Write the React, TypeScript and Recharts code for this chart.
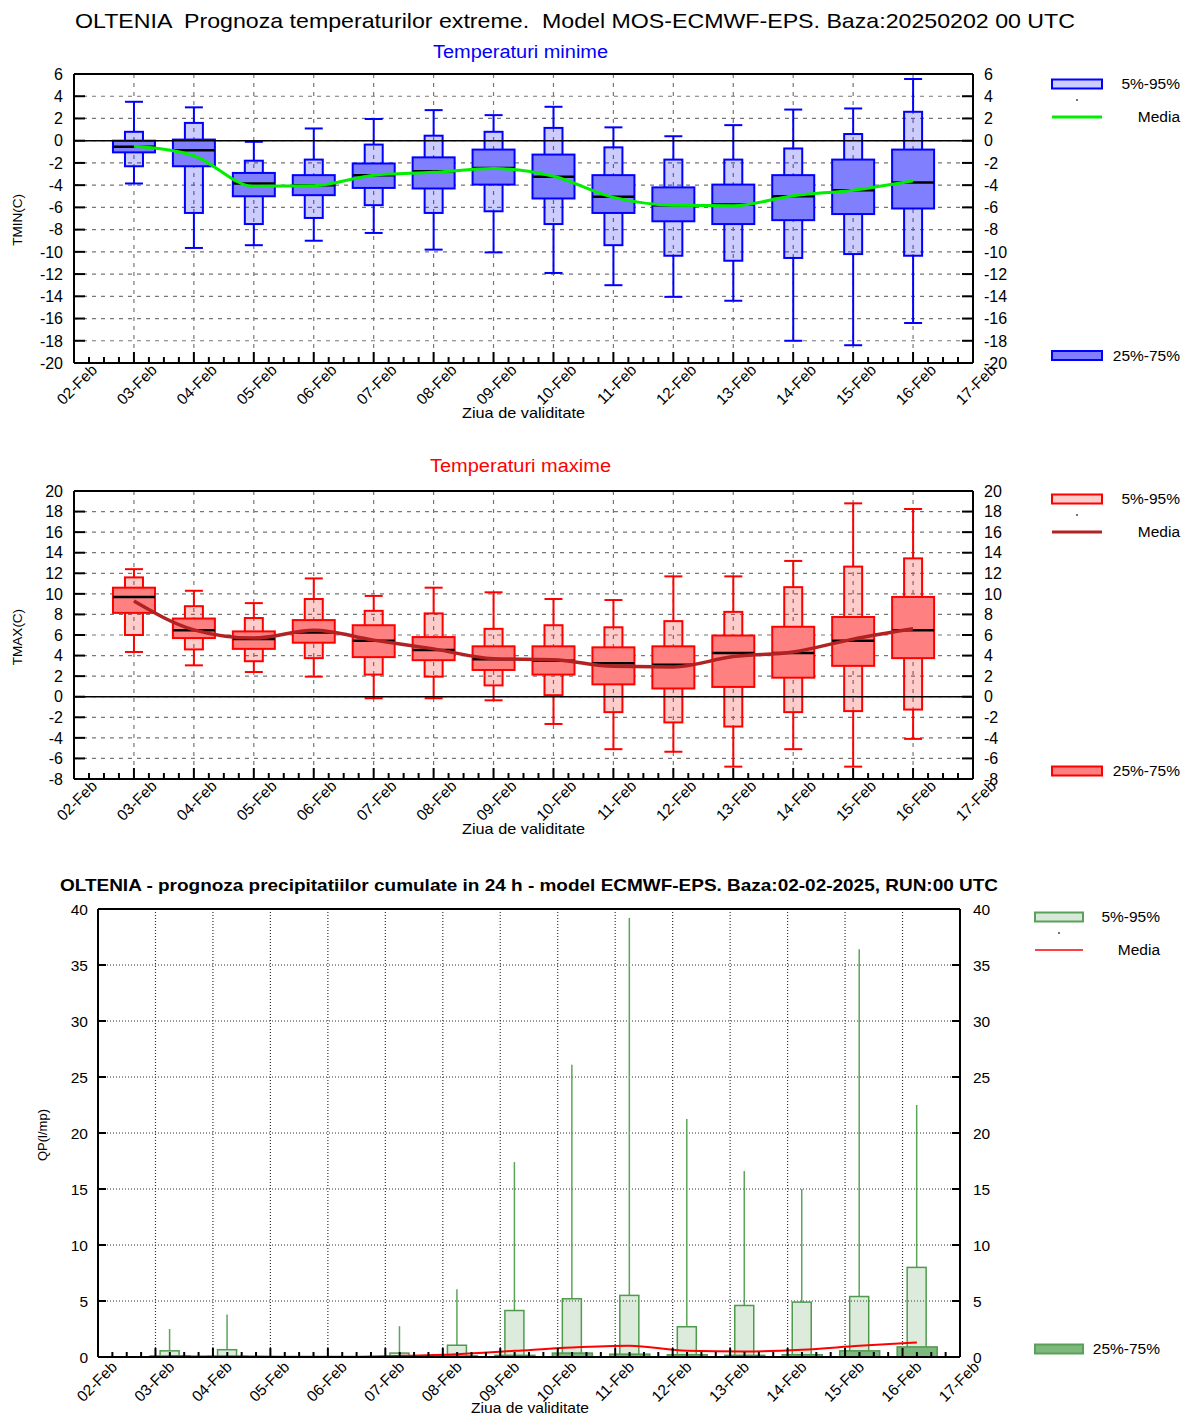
import React from 'react';
import { ComposedChart, Bar, Line, XAxis, YAxis, CartesianGrid, ReferenceLine } from 'recharts';

const FONT = '"Liberation Sans", Arial, Helvetica, sans-serif';

// ---------- categories / tick labels ----------
const DAY_LABELS = ['02-Feb', '03-Feb', '04-Feb', '05-Feb', '06-Feb', '07-Feb', '08-Feb', '09-Feb', '10-Feb', '11-Feb', '12-Feb', '13-Feb', '14-Feb', '15-Feb', '16-Feb', '17-Feb'];
const FORECAST_DAYS = ['03-Feb', '04-Feb', '05-Feb', '06-Feb', '07-Feb', '08-Feb', '09-Feb', '10-Feb', '11-Feb', '12-Feb', '13-Feb', '14-Feb', '15-Feb', '16-Feb'];
const DAY_TICKS = DAY_LABELS.map((_, i) => i);
const QUARTER_TICKS = Array.from({ length: 61 }, (_, i) => i / 4);
const TMIN_TICKS = [-20, -18, -16, -14, -12, -10, -8, -6, -4, -2, 0, 2, 4, 6];
const TMAX_TICKS = [-8, -6, -4, -2, 0, 2, 4, 6, 8, 10, 12, 14, 16, 18, 20];
const QP_TICKS = [0, 5, 10, 15, 20, 25, 30, 35, 40];

// ---------- TMIN ----------
const tminMax = [3.5, 3.0, -0.1, 1.1, 1.95, 2.75, 2.3, 3.05, 1.2, 0.4, 1.4, 2.8, 2.9, 5.55];
const tminP95 = [0.8, 1.6, -1.8, -1.7, -0.35, 0.45, 0.8, 1.15, -0.6, -1.7, -1.7, -0.7, 0.6, 2.6];
const tminP75 = [0.0, 0.1, -2.9, -3.1, -2.05, -1.5, -0.8, -1.25, -3.1, -4.2, -3.95, -3.1, -1.7, -0.8];
const tminMed = [-0.55, -0.85, -3.85, -4.0, -3.1, -2.75, -2.45, -3.25, -5.05, -5.8, -5.75, -5.0, -4.45, -3.75];
const tminP25 = [-1.05, -2.3, -5.0, -4.9, -4.25, -4.3, -3.95, -5.2, -6.5, -7.25, -7.5, -7.15, -6.6, -6.1];
const tminP5 = [-2.3, -6.5, -7.5, -6.95, -5.8, -6.5, -6.35, -7.5, -9.4, -10.35, -10.8, -10.55, -10.2, -10.35];
const tminMin = [-3.85, -9.65, -9.4, -9.0, -8.3, -9.8, -10.05, -11.9, -13.0, -14.05, -14.4, -18.0, -18.4, -16.4];
const tminMean = [-0.5, -1.35, -4.1, -4.05, -3.1, -2.85, -2.5, -3.2, -5.1, -5.8, -5.85, -4.95, -4.45, -3.6];

// ---------- TMAX ----------
const tmaxMax = [12.4, 10.3, 9.1, 11.5, 9.8, 10.6, 10.15, 9.5, 9.4, 11.7, 11.7, 13.2, 18.8, 18.25];
const tmaxP95 = [11.6, 8.8, 7.65, 9.5, 8.35, 8.1, 6.6, 6.95, 6.75, 7.35, 8.25, 10.65, 12.65, 13.45];
const tmaxP75 = [10.6, 7.6, 6.35, 7.45, 6.95, 5.8, 4.9, 4.9, 4.8, 4.9, 5.95, 6.8, 7.75, 9.7];
const tmaxMed = [9.7, 6.45, 5.6, 6.25, 5.45, 4.55, 3.65, 3.5, 3.25, 3.1, 4.25, 4.25, 5.45, 6.45];
const tmaxP25 = [8.15, 5.7, 4.65, 5.25, 3.85, 3.55, 2.6, 2.15, 1.2, 0.8, 0.95, 1.85, 3.0, 3.75];
const tmaxP5 = [6.0, 4.6, 3.45, 3.75, 2.15, 1.95, 1.1, 0.15, -1.5, -2.5, -2.9, -1.5, -1.4, -1.25];
const tmaxMin = [4.35, 3.05, 2.4, 1.95, -0.15, -0.15, -0.35, -2.65, -5.1, -5.35, -6.8, -5.1, -6.8, -4.1];
const tmaxMean = [9.3, 6.5, 5.7, 6.45, 5.5, 4.65, 3.7, 3.6, 2.95, 2.9, 3.9, 4.35, 5.6, 6.6];

// ---------- Precipitation ----------
const qpMax = [2.5, 3.8, 0, 0, 2.75, 6.05, 17.4, 26.1, 39.2, 21.25, 16.6, 15.0, 36.4, 22.5];
const qpP95 = [0.55, 0.65, 0, 0, 0.35, 1.05, 4.15, 5.2, 5.5, 2.7, 4.6, 4.9, 5.4, 8.0];
const qpP75 = [0.1, 0.05, 0, 0, 0.05, 0.1, 0.15, 0.35, 0.25, 0.2, 0.15, 0.2, 0.55, 0.9];
const qpP25 = [0, 0, 0, 0, 0, 0, 0, 0, 0, 0, 0, 0, 0, 0];
const qpP5 = [0, 0, 0, 0, 0, 0, 0, 0, 0, 0, 0, 0, 0, 0];
const qpMin = [0, 0, 0, 0, 0, 0, 0, 0, 0, 0, 0, 0, 0, 0];
const qpMean = [0.05, 0.05, 0.02, 0.02, 0.1, 0.25, 0.55, 0.85, 1.0, 0.55, 0.5, 0.65, 1.0, 1.3];

const PRECIP_SHIFT = 0.25;

type Row = { x: number; max: number; p95: number; p75: number; med: number; p25: number; p5: number; min: number; mean: number };

function buildRows(shift: number, max: number[], p95: number[], p75: number[], med: number[] | null, p25: number[], p5: number[], min: number[], mean: number[]): Row[] {
  return FORECAST_DAYS.map((d, i) => ({
    x: DAY_LABELS.indexOf(d) + shift,
    max: max[i], p95: p95[i], p75: p75[i], med: med ? med[i] : p25[i], p25: p25[i], p5: p5[i], min: min[i], mean: mean[i],
  }));
}

const tminRows = buildRows(0, tminMax, tminP95, tminP75, tminMed, tminP25, tminP5, tminMin, tminMean);
const tmaxRows = buildRows(0, tmaxMax, tmaxP95, tmaxP75, tmaxMed, tmaxP25, tmaxP5, tmaxMin, tmaxMean);
const qpRows = buildRows(PRECIP_SHIFT, qpMax, qpP95, qpP75, null, qpP25, qpP5, qpMin, qpMean);

// ---------- ticks ----------
function makeXTick(majorLen: number, minorLen: number, dx: number, dy: number, fontSize: number) {
  return (props: any) => {
    const { x, y, payload } = props;
    const v = payload.value as number;
    const isMajor = Math.abs(v - Math.round(v)) < 1e-6;
    const label = isMajor ? DAY_LABELS[Math.round(v)] : null;
    const ax = x + dx;
    const ay = y + dy;
    return (
      <g>
        <line x1={x} x2={x} y1={y} y2={y - (isMajor ? majorLen : minorLen)} stroke="#000" strokeWidth={2} />
        {label && (
          <text x={ax} y={ay} transform={`rotate(-45 ${ax} ${ay})`} textAnchor="end" fontSize={fontSize} fontFamily={FONT} fill="#000">
            {label}
          </text>
        )}
      </g>
    );
  };
}

function makeYTick(side: 'left' | 'right', margin: number, len: number, fontSize: number) {
  return (props: any) => {
    const { x, y, payload } = props;
    const axisX = side === 'left' ? x + margin : x - margin;
    const dir = side === 'left' ? 1 : -1;
    return (
      <g>
        <line x1={axisX} x2={axisX + dir * len} y1={y} y2={y} stroke="#000" strokeWidth={2} />
        <text x={x} y={y} dy={fontSize * 0.36} textAnchor={side === 'left' ? 'end' : 'start'} fontSize={fontSize} fontFamily={FONT} fill="#000">
          {payload.value}
        </text>
      </g>
    );
  };
}

type Cfg = {
  rows: Row[];
  width: number;
  height: number;
  margin: { top: number; right: number; bottom: number; left: number };
  yDomain: [number, number];
  yTicks: number[];
  stroke: string;
  lightFill: string;
  lightOpacity: number;
  darkFill: string;
  whiskerColor: string;
  outerW: number;
  innerW: number;
  cap: boolean;
  median: boolean;
  meanColor: string;
  meanWidth: number;
  gridColor: string;
  gridDash: string;
  zeroLine: boolean;
  xTick: any;
  yTickL: any;
  yTickR: any;
  marginL: number;
  marginR: number;
  boxStrokeW: number;
};

function BoxChart({ cfg }: { cfg: Cfg }) {
  const span = (p: any) => {
    const a = p.y;
    const b = p.y + p.height;
    return [Math.min(a, b), Math.max(a, b)];
  };
  const upperWhisker = (p: any) => {
    const [t, b] = span(p);
    const cx = p.x + p.width / 2;
    if (b - t < 0.01) return <g />;
    return (
      <g>
        <line x1={cx} x2={cx} y1={t} y2={b} stroke={cfg.whiskerColor} strokeWidth={cfg.cap ? 2 : 1.5} />
        {cfg.cap && <line x1={p.x} x2={p.x + p.width} y1={t} y2={t} stroke={cfg.whiskerColor} strokeWidth={2} />}
      </g>
    );
  };
  const lowerWhisker = (p: any) => {
    const [t, b] = span(p);
    const cx = p.x + p.width / 2;
    if (b - t < 0.01) return <g />;
    return (
      <g>
        <line x1={cx} x2={cx} y1={t} y2={b} stroke={cfg.whiskerColor} strokeWidth={2} />
        {cfg.cap && <line x1={p.x} x2={p.x + p.width} y1={b} y2={b} stroke={cfg.whiskerColor} strokeWidth={2} />}
      </g>
    );
  };
  const outerBox = (p: any) => {
    const [t, b] = span(p);
    if (b - t < 0.01) return <g />;
    return <rect x={p.x} y={t} width={p.width} height={b - t} fill={cfg.lightFill} fillOpacity={cfg.lightOpacity} stroke={cfg.stroke} strokeWidth={cfg.boxStrokeW} />;
  };
  const innerBox = (p: any) => {
    const [t, b] = span(p);
    if (b - t < 0.01) return <g />;
    return <rect x={p.x} y={t} width={p.width} height={b - t} fill={cfg.darkFill} stroke={cfg.stroke} strokeWidth={cfg.boxStrokeW} />;
  };
  const medianLine = (p: any) => {
    const [t] = span(p);
    return <line x1={p.x} x2={p.x + p.width} y1={t} y2={t} stroke="#000" strokeWidth={2.5} />;
  };
  const common = { domain: [0, 15] as [number, number], type: 'number' as const, dataKey: 'x', hide: true, height: 0, allowDataOverflow: true };

  return (
    <ComposedChart width={cfg.width} height={cfg.height} data={cfg.rows} margin={cfg.margin} style={{ overflow: 'visible' }}>
      <CartesianGrid xAxisId="main" yAxisId="L" verticalValues={DAY_TICKS} horizontalValues={cfg.yTicks} stroke={cfg.gridColor} strokeDasharray={cfg.gridDash} strokeWidth={1.2} />
      <XAxis
        xAxisId="main"
        dataKey="x"
        type="number"
        domain={[0, 15]}
        ticks={QUARTER_TICKS}
        interval={0}
        tickSize={0}
        tickMargin={0}
        tickLine={false}
        tick={cfg.xTick}
        axisLine={{ stroke: '#000', strokeWidth: 2 }}
        height={50}
        allowDataOverflow
      />
      <XAxis xAxisId="w1" {...common} />
      <XAxis xAxisId="w2" {...common} />
      <XAxis xAxisId="b1" {...common} />
      <XAxis xAxisId="b2" {...common} />
      <XAxis xAxisId="m1" {...common} />
      <YAxis
        yAxisId="L"
        type="number"
        domain={cfg.yDomain}
        ticks={cfg.yTicks}
        interval={0}
        tickSize={0}
        tickMargin={cfg.marginL}
        tickLine={false}
        tick={cfg.yTickL}
        axisLine={{ stroke: '#000', strokeWidth: 2 }}
        width={40}
        allowDataOverflow
      />
      <YAxis
        yAxisId="R"
        orientation="right"
        type="number"
        domain={cfg.yDomain}
        ticks={cfg.yTicks}
        interval={0}
        tickSize={0}
        tickMargin={cfg.marginR}
        tickLine={false}
        tick={cfg.yTickR}
        axisLine={{ stroke: '#000', strokeWidth: 2 }}
        width={40}
        allowDataOverflow
      />
      <ReferenceLine xAxisId="main" yAxisId="L" y={cfg.yDomain[1]} stroke="#000" strokeWidth={2} />
      {cfg.zeroLine && <ReferenceLine xAxisId="main" yAxisId="L" y={0} stroke="#000" strokeWidth={1.5} />}
      <Bar xAxisId="w1" yAxisId="L" dataKey={(d: Row) => [d.p95, d.max]} barSize={cfg.outerW} shape={upperWhisker} isAnimationActive={false} />
      <Bar xAxisId="w2" yAxisId="L" dataKey={(d: Row) => [d.min, d.p5]} barSize={cfg.outerW} shape={lowerWhisker} isAnimationActive={false} />
      <Bar xAxisId="b1" yAxisId="L" dataKey={(d: Row) => [d.p5, d.p95]} barSize={cfg.outerW} shape={outerBox} isAnimationActive={false} />
      <Bar xAxisId="b2" yAxisId="L" dataKey={(d: Row) => [d.p25, d.p75]} barSize={cfg.innerW} shape={innerBox} isAnimationActive={false} />
      {cfg.median && <Bar xAxisId="m1" yAxisId="L" dataKey={(d: Row) => [d.p25, d.med]} barSize={cfg.innerW} shape={medianLine} isAnimationActive={false} />}
      <Line xAxisId="main" yAxisId="L" dataKey="mean" type="monotone" stroke={cfg.meanColor} strokeWidth={cfg.meanWidth} dot={false} activeDot={false} isAnimationActive={false} />
    </ComposedChart>
  );
}

const tempXTick = makeXTick(11, 6, 24, 8, 15.5);
const qpXTick = makeXTick(9, 5, 20, 11, 15.5);

const tminCfg: Cfg = {
  rows: tminRows,
  width: 1184,
  height: 440,
  margin: { top: 74, right: 1184 - 973 - 40, bottom: 440 - 363 - 50, left: 74 - 40 },
  yDomain: [-20, 6],
  yTicks: TMIN_TICKS,
  stroke: '#0000ff',
  lightFill: '#0000ff',
  lightOpacity: 0.2,
  darkFill: '#8080ff',
  whiskerColor: '#0000ff',
  outerW: 18,
  innerW: 42,
  cap: true,
  median: true,
  meanColor: '#00ee00',
  meanWidth: 3,
  gridColor: '#777',
  gridDash: '4 5',
  zeroLine: true,
  xTick: tempXTick,
  yTickL: makeYTick('left', 11, 11, 16),
  yTickR: makeYTick('right', 11, 11, 16),
  marginL: 11,
  marginR: 11,
  boxStrokeW: 2,
};

const tmaxCfg: Cfg = {
  ...tminCfg,
  rows: tmaxRows,
  margin: { top: 74, right: 1184 - 973 - 40, bottom: 440 - 362 - 50, left: 74 - 40 },
  yDomain: [-8, 20],
  yTicks: TMAX_TICKS,
  stroke: '#ff0000',
  lightFill: '#ff0000',
  lightOpacity: 0.2,
  darkFill: '#ff8080',
  whiskerColor: '#ff0000',
  meanColor: '#b22222',
  meanWidth: 3.5,
};

const qpCfg: Cfg = {
  rows: qpRows,
  width: 1184,
  height: 581,
  margin: { top: 74, right: 1184 - 960 - 40, bottom: 581 - 522 - 50, left: 98 - 40 },
  yDomain: [0, 40],
  yTicks: QP_TICKS,
  stroke: '#4f9a4f',
  lightFill: '#2e8b2e',
  lightOpacity: 0.17,
  darkFill: '#7db87d',
  whiskerColor: '#5aa55a',
  outerW: 19,
  innerW: 40,
  cap: false,
  median: false,
  meanColor: '#ff0000',
  meanWidth: 2,
  gridColor: '#333',
  gridDash: '1 2',
  zeroLine: false,
  xTick: qpXTick,
  yTickL: makeYTick('left', 10, 8, 15.5),
  yTickR: makeYTick('right', 13, 8, 15.5),
  marginL: 10,
  marginR: 13,
  boxStrokeW: 1.5,
};

function Overlay() {
  const t = { fontFamily: FONT, fill: '#000' } as const;
  const legendBlock = (x0: number, xr: number, y0: number, yBottom: number, light: string, lightStroke: string, dark: string, meanColor: string, meanW: number, boxW: number) => (
    <g>
      <rect x={x0} y={y0 - 4.5} width={boxW} height={9} fill={light} stroke={lightStroke} strokeWidth={2} />
      <text x={xr} y={y0 + 5} textAnchor="end" fontSize={15.5} {...t}>5%-95%</text>
      <circle cx={x0 + boxW / 2} cy={y0 + 16} r={0.9} fill="#333" />
      <line x1={x0} x2={x0 + boxW} y1={y0 + 33} y2={y0 + 33} stroke={meanColor} strokeWidth={meanW} />
      <text x={xr} y={y0 + 38} textAnchor="end" fontSize={15.5} {...t}>Media</text>
      <rect x={x0} y={yBottom - 4.5} width={boxW} height={9} fill={dark} stroke={lightStroke} strokeWidth={2} />
      <text x={xr} y={yBottom + 5} textAnchor="end" fontSize={15.5} {...t}>25%-75%</text>
    </g>
  );
  return (
    <svg width={1184} height={1416} style={{ position: 'absolute', left: 0, top: 0, pointerEvents: 'none' }}>
      <text x={75} y={28} fontSize={21} textLength={1000} lengthAdjust="spacingAndGlyphs" style={{ whiteSpace: 'pre' }} {...t}>
        {'OLTENIA  Prognoza temperaturilor extreme.  Model MOS-ECMWF-EPS. Baza:20250202 00 UTC'}
      </text>
      <text x={433} y={57.5} fontSize={18} textLength={175} lengthAdjust="spacingAndGlyphs" fontFamily={FONT} fill="#0000ff">Temperaturi minime</text>
      <text x={430} y={472} fontSize={18} textLength={181} lengthAdjust="spacingAndGlyphs" fontFamily={FONT} fill="#ff0000">Temperaturi maxime</text>
      <text x={21.5} y={220} transform="rotate(-90 21.5 220)" textAnchor="middle" fontSize={13.5} {...t}>TMIN(C)</text>
      <text x={21.5} y={637} transform="rotate(-90 21.5 637)" textAnchor="middle" fontSize={13.5} {...t}>TMAX(C)</text>
      <text x={462} y={418} fontSize={14.5} textLength={123} lengthAdjust="spacingAndGlyphs" {...t}>Ziua de validitate</text>
      <text x={462} y={834} fontSize={14.5} textLength={123} lengthAdjust="spacingAndGlyphs" {...t}>Ziua de validitate</text>
      <text x={60} y={891} fontSize={17} fontWeight="bold" textLength={938} lengthAdjust="spacingAndGlyphs" {...t}>
        OLTENIA - prognoza precipitatiilor cumulate in 24 h - model ECMWF-EPS. Baza:02-02-2025, RUN:00 UTC
      </text>
      <text x={47} y={1135} transform="rotate(-90 47 1135)" textAnchor="middle" fontSize={13} {...t}>QP(l/mp)</text>
      <text x={471} y={1413} fontSize={14.5} textLength={118} lengthAdjust="spacingAndGlyphs" {...t}>Ziua de validitate</text>
      {legendBlock(1052, 1180, 84, 355.5, '#ccccff', '#0000ff', '#8080ff', '#00ee00', 3, 50)}
      {legendBlock(1052, 1180, 499, 771, '#ffcccc', '#ff0000', '#ff8080', '#b22222', 3, 50)}
      {legendBlock(1035, 1160, 917, 1349, '#d8e8d8', '#5aa05a', '#7db87d', '#ff0000', 1.5, 48)}
    </svg>
  );
}

export default function App() {
  return (
    <div style={{ position: 'absolute', left: 0, top: 0, width: 1184, height: 1416, background: '#fff', overflow: 'hidden' }}>
      <div style={{ position: 'absolute', left: 0, top: 0 }}>
        <BoxChart cfg={tminCfg} />
      </div>
      <div style={{ position: 'absolute', left: 0, top: 417 }}>
        <BoxChart cfg={tmaxCfg} />
      </div>
      <div style={{ position: 'absolute', left: 0, top: 835 }}>
        <BoxChart cfg={qpCfg} />
      </div>
      <Overlay />
    </div>
  );
}
